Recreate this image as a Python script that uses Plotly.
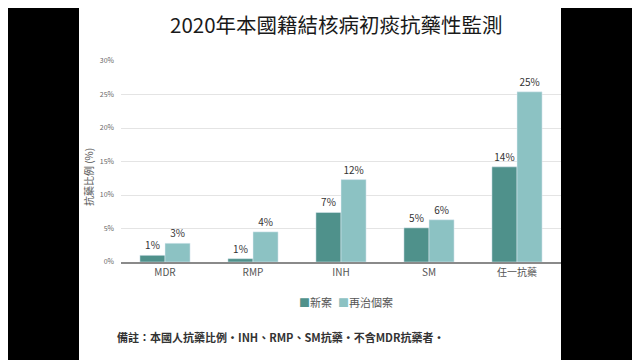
import plotly.graph_objects as go

categories = ["MDR", "RMP", "INH", "SM", "任一抗藥"]
new_cases = [1.0, 0.5, 7.4, 5.1, 14.2]
retreat_cases = [2.8, 4.5, 12.3, 6.3, 25.4]
new_labels = ["1%", "1%", "7%", "5%", "14%"]
retreat_labels = ["3%", "4%", "12%", "6%", "25%"]
series_names = ["新案", "再治個案"]
series_colors = ["#4f918b", "#8cc2c3"]
y_ticks = [0, 5, 10, 15, 20, 25, 30]
y_tick_labels = ["0%", "5%", "10%", "15%", "20%", "25%", "30%"]

FONT = "Noto Sans CJK TC"
OFF = 8  # page body margin
FW, FH = 640 - OFF, 360 - OFF
L, R, T, B = 121, 561, 61, 262  # plot area in screen pixels
W = R - L
H = B - T

def px(x):
    return (x - L) / W

def py(y):
    return (B - y) / H

fig = go.Figure()
for name, vals, labels, color in [
    (series_names[0], new_cases, new_labels, series_colors[0]),
    (series_names[1], retreat_cases, retreat_labels, series_colors[1]),
]:
    fig.add_trace(go.Bar(
        name=name, x=categories, y=vals, text=labels,
        textposition="outside", marker_color=color,
        textfont=dict(size=10, color="#333333"), cliponaxis=False,
    ))

fig.update_layout(
    width=FW, height=FH,
    margin=dict(l=L - OFF, r=640 - R, t=T - OFF, b=360 - B, autoexpand=False),
    paper_bgcolor="white", plot_bgcolor="white",
    font=dict(family=FONT, color="#555555"),
    barmode="group", bargap=0.43, bargroupgap=0,
    showlegend=False,
    xaxis=dict(showline=True, linecolor="#8a8a8a", linewidth=1.5,
               tickfont=dict(size=10, color="#555555"), ticks="",
               automargin=False),
    yaxis=dict(range=[0, 30], tickvals=y_ticks, ticktext=y_tick_labels,
               showgrid=True, gridcolor="#e4e4e4", gridwidth=1,
               zeroline=False, tickfont=dict(size=7, color="#666666"),
               ticklabelstandoff=6, automargin=False),
)

fig.add_annotation(text="2020年本國籍結核病初痰抗藥性監測", xref="paper", yref="paper",
                   x=px(336), y=py(24), xanchor="center", yanchor="middle",
                   showarrow=False, borderpad=0,
                   font=dict(size=20.5, color="#1a1a1a", family=FONT))
fig.add_annotation(text="抗藥比例 (%)", xref="paper", yref="paper",
                   x=px(88), y=py(177), xanchor="center", yanchor="middle",
                   showarrow=False, textangle=-90,
                   font=dict(size=10, color="#555555", family=FONT))
fig.add_annotation(text="<b>備註：本國人抗藥比例・INH、RMP、SM抗藥・不含MDR抗藥者・</b>",
                   xref="paper", yref="paper", x=px(115), y=py(337),
                   xanchor="left", yanchor="middle", showarrow=False,
                   font=dict(size=11, color="#333333", family=FONT))

# legend drawn as text entries
legend_x = [297, 336]
for name, color, lx in zip(series_names, series_colors, legend_x):
    fig.add_annotation(text=f"<span style='color:{color}'>■</span>{name}",
                       xref="paper", yref="paper", x=px(lx), y=py(302),
                       xanchor="left", yanchor="middle", showarrow=False,
                       font=dict(size=11, color="#555555", family=FONT))

for x0, x1 in [(0, 79), (561, 640)]:
    fig.add_shape(type="rect", xref="paper", yref="paper",
                  x0=px(x0), x1=px(x1), y0=py(370), y1=py(-10),
                  fillcolor="black", line=dict(width=0), layer="above")

fig.write_html("out.html")
